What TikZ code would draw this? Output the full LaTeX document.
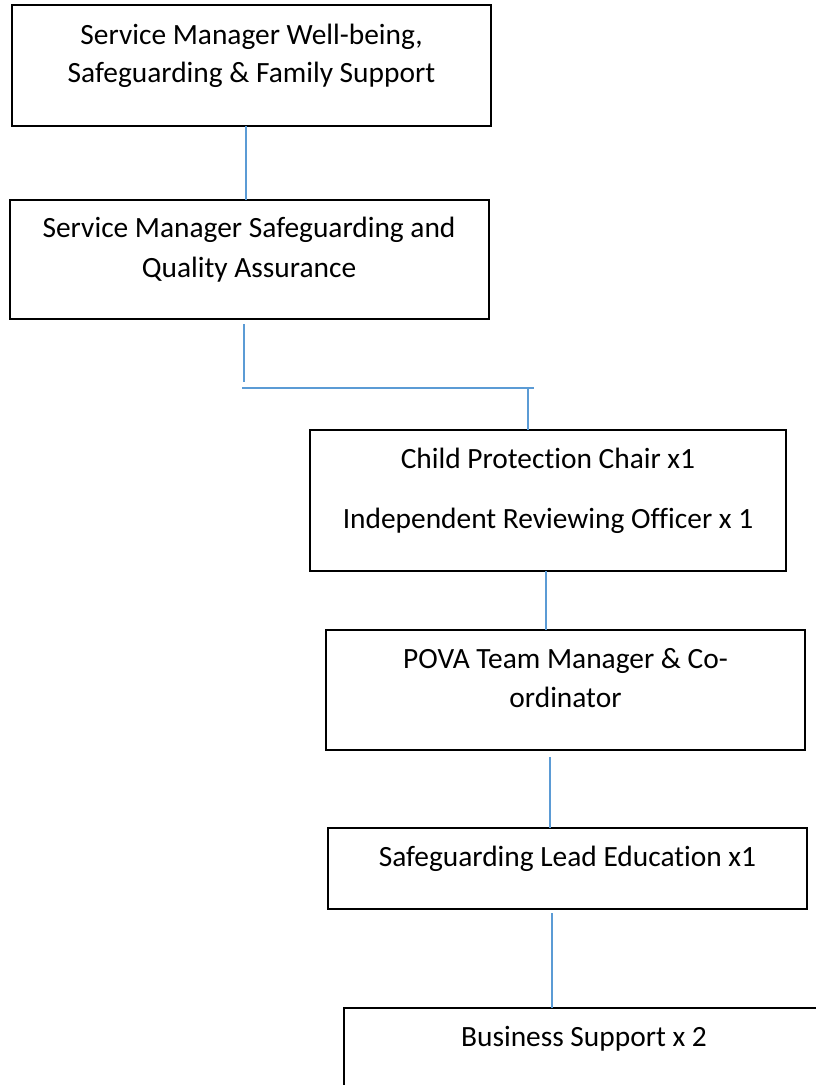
\documentclass[tikz,border=0pt]{standalone}
\usepackage{fontspec}
\setmainfont{Carlito}[Ligatures={NoCommon}]
\usetikzlibrary{calc}
\definecolor{linkblue}{RGB}{91,155,213}
\tikzset{
  box/.style={draw=black, line width=2pt, rectangle, inner sep=0pt, outer sep=0pt, fill=none},
  txt/.style={anchor=base, inner sep=0pt, font=\fontsize{29.4}{38}\selectfont},
  link/.style={draw=linkblue, line width=1.4pt}
}
\begin{document}
\begin{tikzpicture}[x=1pt, y=-1pt]
\useasboundingbox (0,0) rectangle (816,1085);
\fill[white] (0,0) rectangle (816,1085);

% boxes
\node[box, minimum width=479pt, minimum height=121pt] (b1) at (251.5,65.5) {};
\node[box, minimum width=479pt, minimum height=119pt] (b2) at (249.5,259.5) {};
\node[box, minimum width=476pt, minimum height=141pt] (b3) at (548,500.5) {};
\node[box, minimum width=479pt, minimum height=120pt] (b4) at (565.5,690) {};
\node[box, minimum width=479pt, minimum height=81pt] (b5) at (567.5,868.5) {};
\node[box, minimum width=480pt, minimum height=122pt] (b6) at (584,1069) {};

% texts
\node[txt] (t1a) at ($(b1.north)+(0,39)$) {Service Manager Well-being,};
\node[txt] (t1b) at ($(b1.north)+(0,77)$) {Safeguarding \& Family Support};
\node[txt] (t2a) at ($(b2.north)+(-0.5,37)$) {Service Manager Safeguarding and};
\node[txt] (t2b) at ($(b2.north)+(-0.5,77)$) {Quality Assurance};
\node[txt] (t3a) at ($(b3.north)+(0,38)$) {Child Protection Chair x1};
\node[txt] (t3b) at ($(b3.north)+(0,98)$) {Independent Reviewing Officer x 1};
\node[txt] (t4a) at ($(b4.north)+(0,38)$) {POVA Team Manager \& Co-};
\node[txt] (t4b) at ($(b4.north)+(0,77)$) {ordinator};
\node[txt] (t5a) at ($(b5.north)+(0,38)$) {Safeguarding Lead Education x1};
\node[txt] (t6a) at ($(b6.north)+(0,38)$) {Business Support x 2};

% connector points
\coordinate (c2a) at ($(b2.south)+(-5.5,5)$);
\coordinate (c2b) at ($(b2.south)+(-5.5,63)$);
\coordinate (h1) at ($(b2.south)+(-7.5,69)$);
\coordinate (h2) at ($(b2.south)+(284.5,69)$);
\coordinate (c3a) at ($(b3.north)+(-20,-42)$);

% connectors
\draw[link] ([xshift=-5.5pt]b1.south) -- ([xshift=-5.5pt]b1.south |- b2.north);
\draw[link] (c2a) -- (c2b);
\draw[link] (h1) -- (h2);
\draw[link] (c3a) -- (c3a |- b3.north);
\draw[link] ([xshift=-2pt]b3.south) -- ([xshift=-2pt]b3.south |- b4.north);
\draw[link] ($(b4.south)+(-15.5,7)$) -- ([xshift=-15.5pt]b4.south |- b5.north);
\draw[link] ($(b5.south)+(-15.5,4)$) -- ([xshift=-15.5pt]b5.south |- b6.north);
\end{tikzpicture}
\end{document}
